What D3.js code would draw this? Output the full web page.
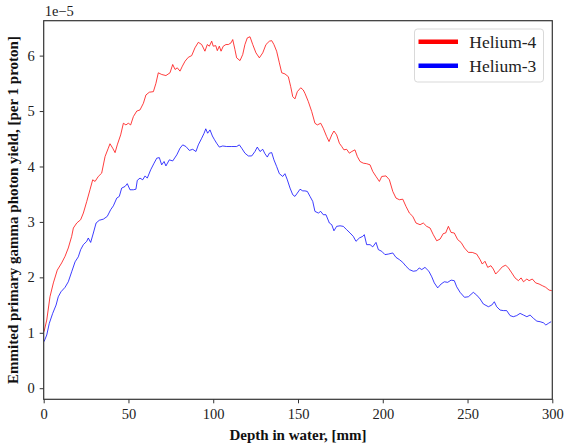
<!DOCTYPE html>
<html>
<head>
<meta charset="utf-8">
<script src="https://cdn.jsdelivr.net/npm/d3@7"></script>
<style>
  html, body { margin: 0; padding: 0; background: #fff; }
  svg { display: block; }
  .axis text { font-family: "Liberation Serif", "Times New Roman", serif; font-size: 14.5px; fill: #222; }
  .axis path, .axis line { stroke: #333; }
</style>
</head>
<body>
<svg id="chart" width="564" height="445"></svg>
<script>
// Emitted primary gamma photon yield per proton (units of 1e-5) vs depth in water (mm)
const depthHe4 = [0.2,1.8,3.7,5.7,8.0,10.6,12.6,14.5,16.5,17.5,19.5,21.8,23.4,25.4,27.3,28.9,30.3,32.2,34.2,36.2,38.1,39.1,40.7,42.1,43.4,45.4,47.0,48.5,49.9,51.3,52.9,54.9,56.8,58.8,60.3,62.3,64.7,66.2,67.6,69.6,72.1,74.5,76.1,77.5,78.8,80.4,81.8,83.4,85.3,87.3,89.2,91.2,93.2,95.1,96.5,97.7,99.1,100.0,101.5,102.4,103.6,104.6,105.9,107.5,108.9,110.5,111.5,112.8,113.8,115.8,117.4,118.7,120.1,121.7,123.3,125.2,127.2,129.2,131.1,133.1,134.5,135.8,137.4,139.0,140.4,142.3,144.3,145.7,146.9,148.2,149.6,151.6,153.1,154.1,156.1,158.1,160.0,161.4,163.4,164.9,166.9,168.3,169.9,171.2,172.8,174.4,175.8,177.1,178.7,180.3,181.7,183.6,185.0,186.6,188.5,190.5,192.5,194.1,196.0,198.0,199.4,201.9,203.9,205.9,207.8,209.8,211.8,213.7,215.7,217.7,219.6,222.0,223.9,225.9,227.9,229.8,231.8,233.8,235.7,237.1,238.7,240.3,242.2,244.2,246.2,248.2,250.5,252.8,255.4,257.4,258.7,260.3,261.9,263.8,265.2,266.6,268.5,270.5,272.5,274.1,276.1,278.0,280.0,281.6,283.0,285.0,286.3,288.2,290.2,292.2,294.1,296.1,298.1,299.7];
const yieldHe4 = [1.02,1.23,1.65,1.90,2.13,2.26,2.38,2.53,2.74,2.89,2.98,3.04,3.16,3.37,3.58,3.76,3.73,3.82,3.88,4.18,4.33,4.41,4.33,4.25,4.39,4.57,4.78,4.75,4.78,4.75,4.90,5.00,5.02,5.14,5.29,5.34,5.35,5.50,5.69,5.66,5.64,5.69,5.84,5.75,5.78,5.72,5.81,5.90,5.97,6.00,6.14,6.24,6.20,6.08,6.20,6.17,6.26,6.17,6.18,6.09,6.17,6.08,6.17,6.20,6.20,6.23,6.29,6.11,5.96,5.91,6.02,6.20,6.32,6.34,6.20,6.05,5.96,6.05,6.20,6.26,6.27,6.20,6.08,5.87,5.69,5.67,5.62,5.44,5.26,5.22,5.35,5.42,5.38,5.32,5.17,4.99,4.78,4.75,4.78,4.69,4.54,4.45,4.57,4.64,4.57,4.42,4.36,4.30,4.31,4.24,4.27,4.30,4.18,4.09,4.06,4.05,4.03,3.91,3.82,3.73,3.82,3.83,3.76,3.55,3.43,3.40,3.41,3.28,3.16,3.10,2.98,2.95,2.98,2.92,2.89,2.77,2.66,2.69,2.79,2.80,2.92,2.81,2.80,2.68,2.63,2.53,2.45,2.45,2.42,2.32,2.24,2.29,2.18,2.21,2.15,2.06,2.12,2.19,2.22,2.17,2.08,1.99,1.94,1.99,1.92,1.97,1.94,1.97,1.90,1.88,1.85,1.82,1.77,1.76];

const depthHe3 = [0.2,1.8,3.3,5.3,7.3,8.6,10.2,12.6,14.5,16.5,18.5,20.4,21.8,23.4,25.4,26.3,27.7,29.3,30.9,32.8,35.2,37.5,39.5,41.1,43.1,44.6,46.0,48.0,49.3,50.9,52.9,54.4,55.2,56.8,58.4,59.8,61.1,63.1,65.1,66.7,68.2,69.6,71.0,72.1,74.1,76.1,78.5,80.4,82.0,83.9,85.9,87.9,89.8,91.2,93.2,94.6,95.6,96.7,98.1,99.5,100.6,102.0,103.6,105.6,107.9,110.9,113.8,115.4,116.8,118.7,120.7,122.7,124.6,126.0,127.6,129.2,130.5,131.9,133.1,134.5,135.8,137.4,139.0,141.0,142.3,143.7,145.3,146.9,148.2,149.6,151.2,152.8,154.1,155.5,157.1,158.7,160.0,162.0,163.4,164.9,166.5,168.5,169.9,171.2,172.8,174.8,176.7,178.7,180.7,182.6,184.2,186.2,188.2,189.1,190.5,192.5,194.1,196.0,197.4,199.4,201.3,203.3,205.9,207.8,209.8,211.8,213.7,215.7,218.0,220.0,221.5,223.0,224.9,227.2,228.9,230.4,232.4,234.4,236.3,238.3,240.3,242.2,243.6,245.6,248.2,250.5,253.4,255.4,257.4,259.3,262.3,264.3,265.8,267.2,269.2,271.1,273.1,275.1,277.0,279.0,281.0,283.0,285.0,286.9,288.9,290.9,292.8,294.8,296.2,297.7,299.3];
const yieldHe3 = [0.84,0.96,1.17,1.35,1.50,1.65,1.74,1.82,1.92,2.10,2.28,2.37,2.50,2.59,2.65,2.71,2.63,2.80,2.98,3.03,3.05,3.10,3.22,3.29,3.43,3.46,3.61,3.64,3.69,3.58,3.58,3.59,3.75,3.79,3.76,3.83,3.79,3.94,4.06,4.15,4.16,4.03,4.09,4.01,4.12,4.10,4.21,4.33,4.39,4.36,4.29,4.31,4.27,4.39,4.51,4.60,4.68,4.60,4.66,4.55,4.49,4.42,4.35,4.37,4.36,4.36,4.36,4.39,4.33,4.24,4.19,4.19,4.27,4.35,4.27,4.31,4.23,4.17,4.24,4.25,4.12,4.00,3.87,3.82,3.87,3.76,3.61,3.49,3.46,3.52,3.59,3.56,3.56,3.55,3.46,3.37,3.19,3.16,3.19,3.13,3.13,2.98,2.95,2.84,2.92,2.93,2.92,2.86,2.80,2.74,2.65,2.71,2.74,2.77,2.59,2.59,2.55,2.63,2.50,2.47,2.41,2.42,2.44,2.36,2.32,2.27,2.20,2.14,2.11,2.12,2.17,2.14,2.18,2.11,2.01,1.90,1.81,1.88,1.92,1.91,1.95,1.94,1.83,1.73,1.64,1.65,1.73,1.68,1.61,1.52,1.47,1.50,1.56,1.47,1.41,1.40,1.40,1.31,1.29,1.31,1.35,1.32,1.29,1.32,1.26,1.21,1.20,1.18,1.14,1.17,1.20];

const seriesNames = ["Helium-4", "Helium-3"];
const seriesColors = ["#ff0000", "#0000ff"];
const xTicks = [0, 50, 100, 150, 200, 250, 300];
const yTicks = [0, 1, 2, 3, 4, 5, 6];

const svg = d3.select("#chart");
const plotLeft = 43.7, plotRight = 552.3, plotTop = 20.7, plotBottom = 399.3;

const x = d3.scaleLinear().domain([0, 300]).range([plotLeft, plotRight]);
const y = d3.scaleLinear().domain([-0.2, 6.63]).range([plotBottom, plotTop]);

// data lines
const line = d3.line().x(d => x(d[0])).y(d => y(d[1]));
const series = [
  d3.zip(depthHe4, yieldHe4),
  d3.zip(depthHe3, yieldHe3)
];
svg.append("clipPath").attr("id", "plotClip")
  .append("rect").attr("x", plotLeft).attr("y", plotTop)
  .attr("width", plotRight - plotLeft).attr("height", plotBottom - plotTop);

svg.append("g").attr("clip-path", "url(#plotClip)")
  .selectAll("path.series").data(series).join("path")
  .attr("class", "series")
  .attr("d", line)
  .attr("fill", "none")
  .attr("stroke", (d, i) => seriesColors[i])
  .attr("stroke-opacity", 0.85)
  .attr("stroke-width", 0.9)
  .attr("stroke-linejoin", "round");

// axes
const xAxis = svg.append("g").attr("class", "axis")
  .attr("transform", `translate(0,${plotBottom})`)
  .call(d3.axisBottom(x).tickValues(xTicks).tickSize(4).tickPadding(5).tickFormat(d3.format("d")));
const yAxis = svg.append("g").attr("class", "axis")
  .attr("transform", `translate(${plotLeft},0)`)
  .call(d3.axisLeft(y).tickValues(yTicks).tickSize(4).tickPadding(5).tickFormat(d3.format("d")));
[xAxis, yAxis].forEach(g => {
  g.select(".domain").remove();
  g.selectAll(".tick line").attr("stroke-width", 1);
});

// frame
svg.append("rect")
  .attr("x", plotLeft).attr("y", plotTop)
  .attr("width", plotRight - plotLeft).attr("height", plotBottom - plotTop)
  .attr("fill", "none").attr("stroke", "#333").attr("stroke-width", 1.2);

// offset text
svg.append("text")
  .attr("x", plotLeft + 1).attr("y", 16)
  .attr("font-family", "Liberation Serif, serif")
  .attr("font-size", 14.5).attr("fill", "#222")
  .text("1e\u22125");

// axis titles
svg.append("text")
  .attr("x", (plotLeft + plotRight) / 2).attr("y", 440)
  .attr("text-anchor", "middle")
  .attr("font-family", "Liberation Serif, serif")
  .attr("font-weight", "bold").attr("font-size", 15).attr("fill", "#111")
  .text("Depth in water, [mm]");

svg.append("text")
  .attr("transform", `translate(18,${(plotTop + plotBottom) / 2}) rotate(-90)`)
  .attr("text-anchor", "middle")
  .attr("font-family", "Liberation Serif, serif")
  .attr("font-weight", "bold").attr("font-size", 15).attr("fill", "#111")
  .text("Emmited primary gamma photon yield, [per 1 proton]");

// legend
const legend = svg.append("g");
legend.append("rect")
  .attr("x", 414.5).attr("y", 29).attr("width", 129).attr("height", 53)
  .attr("rx", 3).attr("fill", "#fff").attr("fill-opacity", 0.9)
  .attr("stroke", "#d9d9d9").attr("stroke-width", 1);
seriesNames.forEach((name, i) => {
  const ly = 41.7 + i * 24;
  legend.append("line")
    .attr("x1", 418.5).attr("x2", 458).attr("y1", ly).attr("y2", ly)
    .attr("stroke", seriesColors[i]).attr("stroke-width", 4.5);
  legend.append("text")
    .attr("x", 469.3).attr("y", ly + 6)
    .attr("font-family", "Liberation Serif, serif")
    .attr("font-size", 17.5).attr("fill", "#222")
    .text(name);
});
</script>
</body>
</html>
